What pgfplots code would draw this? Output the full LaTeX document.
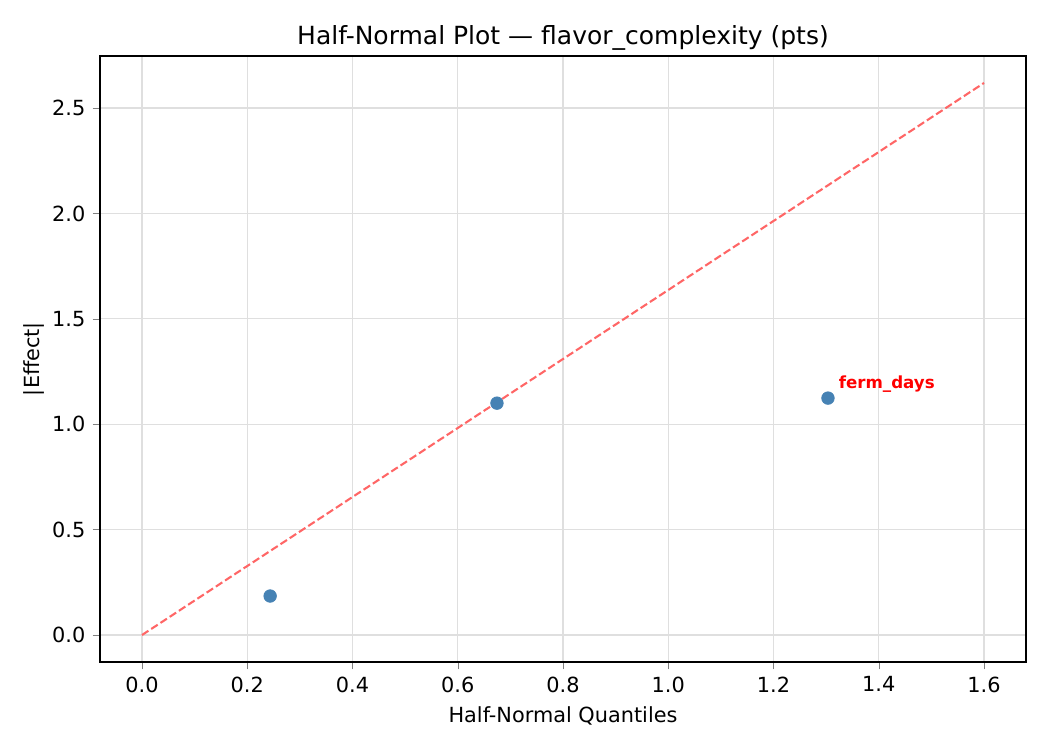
\documentclass[border=0pt]{standalone}
\usepackage{pgfplots}
\pgfplotsset{compat=1.18}
\usepackage{fontspec}
\setmainfont{DejaVu Sans}
\definecolor{steel}{HTML}{4682B4}
\definecolor{lred}{RGB}{255,102,102}
\begin{document}
\begin{tikzpicture}
\path (0,0) rectangle (504pt,360pt);
\begin{axis}[
  at={(48pt,42.24pt)}, anchor=south west,
  scale only axis, width=444.48pt, height=290.88pt,
  xmin=-0.0798, xmax=1.6798, ymin=-0.128, ymax=2.747,
  xtick={0,0.2,...,1.6}, ytick={0,0.5,...,2.5},
  xticklabel style={/pgf/number format/.cd,fixed,fixed zerofill,precision=1},
  yticklabel style={/pgf/number format/.cd,fixed,fixed zerofill,precision=1},
  /pgf/number format/assume math mode=true,
  tick label style={font=\fontsize{10}{12}\selectfont},
  tick align=outside, major tick length=3.5pt,
  xtick pos=bottom, ytick pos=left,
  grid=major, major grid style={gray!25, line width=0.6pt},
  axis line style={line width=0.8pt},
  title={Half-Normal Plot — flavor\_complexity (pts)},
  title style={font=\fontsize{12}{14}\selectfont, yshift=-7pt},
  xlabel={Half-Normal Quantiles}, ylabel={|Effect|},
  label style={font=\fontsize{10}{12}\selectfont},
  xlabel style={yshift=0pt}, ylabel style={yshift=-3pt},
]
\addplot[lred, dashed, line width=1pt, dash pattern=on 3.7pt off 1.6pt] coordinates {(0,0) (1.6,2.619)};
\addplot[only marks, mark=*, mark size=3pt, steel, mark options={draw=steel, fill=steel}] coordinates {
(0.2435,0.185) (0.6745,1.100) (1.3035,1.124)};
\node[anchor=base west, text=red, font=\fontsize{8}{10}\selectfont\bfseries, inner sep=0pt] at (axis cs:1.3035,1.124) [xshift=5pt, yshift=4.4pt] {ferm\_days};
\end{axis}
\end{tikzpicture}
\end{document}
